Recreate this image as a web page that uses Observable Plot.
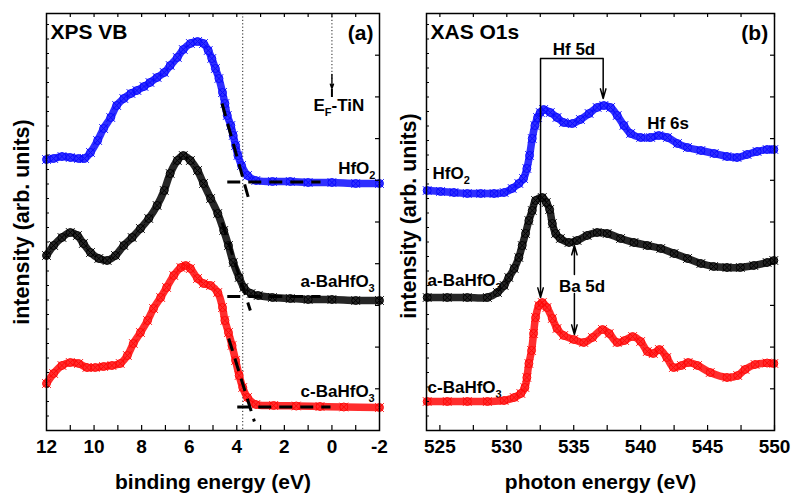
<!DOCTYPE html>
<html><head><meta charset="utf-8">
<script src="https://cdn.jsdelivr.net/npm/d3@7"></script>
<script src="https://cdn.jsdelivr.net/npm/@observablehq/plot@0.6"></script>
<style>
body{margin:0;background:#fff;}
#chart{position:relative;width:791px;height:497px;background:#fff;overflow:hidden;}
#chart svg{position:absolute;top:0;}
</style></head><body><div id="chart"></div>
<script>
// ---------- data: [energy (eV), intensity (arb. units)] ----------
const xpsHfO2 = [[12.0,27.1],[11.7,27.2],[11.35,27.4],[11.0,27.3],[10.65,27.2],[10.4,27.2],[10.15,27.8],[9.85,29.0],[9.6,30.2],[9.3,31.3],[9.05,32.5],[8.75,33.2],[8.45,33.7],[8.2,34.0],[7.9,34.4],[7.65,34.8],[7.35,35.3],[7.05,35.8],[6.8,36.5],[6.5,37.3],[6.25,38.1],[5.95,38.7],[5.65,38.9],[5.4,38.7],[5.2,38.0],[5.05,37.2],[4.9,36.2],[4.75,35.2],[4.6,33.8],[4.5,32.7],[4.4,31.5],[4.25,30.5],[4.15,29.5],[4.05,28.5],[3.95,27.5],[3.8,26.5],[3.55,25.5],[3.2,25.0],[2.5,24.9],[1.75,24.9],[1.0,24.8],[0.0,24.8],[-1.0,24.7],[-2.0,24.7]];
const xpsAmorphous = [[12.0,17.5],[11.7,18.5],[11.35,19.3],[11.0,19.8],[10.7,19.5],[10.45,18.7],[10.15,17.8],[9.8,17.2],[9.45,17.0],[9.1,17.5],[8.75,18.5],[8.4,19.3],[8.05,20.2],[7.7,21.2],[7.35,22.5],[7.05,24.0],[6.8,25.7],[6.5,27.0],[6.25,27.5],[5.95,27.0],[5.65,26.0],[5.4,24.7],[5.1,23.2],[4.8,21.7],[4.55,20.0],[4.35,18.5],[4.15,16.8],[3.9,15.3],[3.7,14.3],[3.4,13.7],[3.1,13.5],[2.5,13.3],[1.75,13.2],[1.0,13.1],[0.0,13.1],[-1.0,13.0],[-2.0,13.0]];
const xpsCrystal = [[12.0,4.7],[11.7,5.7],[11.35,6.5],[11.0,6.8],[10.65,6.7],[10.3,6.3],[9.95,6.3],[9.6,6.4],[9.25,6.5],[8.9,6.7],[8.6,7.5],[8.35,8.7],[8.05,9.8],[7.75,11.0],[7.5,12.2],[7.2,13.3],[6.95,14.3],[6.65,15.5],[6.35,16.3],[6.15,16.5],[5.95,16.2],[5.65,15.2],[5.4,14.7],[5.1,14.5],[4.8,13.8],[4.6,12.3],[4.5,11.0],[4.35,9.8],[4.2,8.5],[4.05,7.0],[3.9,5.5],[3.75,4.3],[3.55,3.3],[3.2,2.6],[2.45,2.5],[1.5,2.45],[0.5,2.4],[-0.5,2.35],[-2.0,2.3]];

const xasHfO2 = [[524.05,24.0],[525.05,23.9],[526.05,23.8],[527.05,23.7],[528.05,23.7],[529.05,23.7],[529.8,23.8],[530.4,24.2],[530.9,24.7],[531.25,25.2],[531.5,26.2],[531.7,27.5],[531.9,29.2],[532.1,30.5],[532.3,31.3],[532.5,31.8],[532.75,32.1],[533.25,31.8],[533.75,31.3],[534.25,30.8],[534.9,30.7],[535.5,31.1],[536.15,31.7],[536.75,32.3],[537.25,32.5],[537.75,32.3],[538.25,31.5],[538.75,30.5],[539.25,29.7],[540.0,29.3],[540.75,29.3],[541.35,29.5],[542.0,29.3],[542.75,28.7],[543.5,28.3],[544.5,28.0],[545.5,27.7],[546.45,27.4],[547.2,27.3],[547.95,27.6],[548.7,27.9],[549.45,28.1],[549.95,28.1]];
const xasAmorphous = [[524.05,13.3],[525.55,13.3],[527.05,13.3],[528.55,13.3],[529.3,13.8],[529.8,14.5],[530.15,15.3],[530.55,16.2],[530.9,17.3],[531.15,18.5],[531.4,19.7],[531.65,21.0],[531.9,22.0],[532.15,23.0],[532.65,23.3],[532.95,22.8],[533.2,22.1],[533.4,20.7],[533.65,19.7],[534.0,19.2],[534.65,18.8],[535.25,19.0],[536.0,19.5],[536.75,19.8],[537.5,19.7],[538.5,19.2],[539.5,18.8],[540.5,18.5],[541.5,18.2],[542.5,17.7],[543.5,17.2],[544.5,16.7],[545.45,16.4],[546.45,16.3],[547.45,16.3],[548.45,16.5],[549.45,16.8],[549.95,17.0]];
const xasCrystal = [[524.05,2.9],[525.55,2.9],[527.05,2.9],[528.55,2.9],[529.8,3.0],[530.55,3.3],[531.05,3.7],[531.35,4.3],[531.5,5.3],[531.65,6.7],[531.85,8.0],[532.0,9.7],[532.15,11.3],[532.4,12.5],[532.65,12.8],[533.0,12.3],[533.4,11.2],[533.75,10.2],[534.25,9.5],[535.0,9.1],[535.75,8.8],[536.4,9.3],[537.15,10.1],[537.65,9.7],[538.25,8.8],[538.8,9.0],[539.4,9.4],[540.0,8.9],[540.5,7.9],[540.95,7.7],[541.4,8.1],[541.95,7.3],[542.45,6.3],[543.05,6.5],[543.55,6.8],[544.25,6.5],[545.2,5.8],[546.45,5.3],[547.25,5.5],[547.8,6.1],[548.55,6.6],[549.45,6.75],[549.95,6.7]];

// linear extrapolations of the valence band edges: [E1, I1, E2, I2]
const xpsEdgeFits = [[4.62,32.7,3.48,23.0],[4.40,24.85,0.48,24.85],[4.62,20.8,3.43,12.0],[4.40,13.4,0.48,13.4],[4.34,9.2,3.26,0.9],[3.98,2.35,0.06,2.35]];
const vbmEnergy = 3.75;      // dotted line
const fermiTiN = 0;          // E_F of TiN
// annotations (right panel)
const hf5dArrows = [[532.52,37.2,13.3],[537.2,37.2,33.2]];   // [E, from, to]
const hf5dBar = [[532.52,537.2,37.2]];
const ba5dArrows = [[535.05,15.6,18.5],[535.05,13.7,9.6]];

// tick labels
const xTickLabelsLeft = [12,10,8,6,4,2,0,-2];
const xTickLabelsRight = [525,530,535,540,545,550];

// text labels ("_x" = subscript x)
const xpsLabels = [{x:-1.83,y:25.7,t:"HfO_2"},{x:-1.8,y:14.4,t:"a-BaHfO_3"},{x:-1.8,y:3.4,t:"c-BaHfO_3"}];
const fermiLabel = [{x:0.777,y:32.0,t:"E_F-TiN"}];
const xasLabels = [{x:524.45,y:25.2,t:"HfO_2"},{x:524.08,y:14.5,t:"a-BaHfO_3"},{x:524.08,y:3.8,t:"c-BaHfO_3"}];
const peakLabelsCentered = [{x:535.02,y:37.6,t:"Hf 5d"},{x:535.62,y:13.9,t:"Ba 5d"}];
const peakLabelsStart = [{x:540.5,y:30.2,t:"Hf 6s"}];

const BLUE = "#0a0aff", BLACK = "#000", RED = "#ff0808";
const FONT = '"Liberation Sans", Arial, Helvetica, sans-serif';
const YMAX = 41.7;
const X = d => d[0], Y = d => d[1];

function seriesMarks(data, color) {
  return [
    Plot.line(data, {x: X, y: Y, stroke: color, strokeWidth: 7.5, strokeOpacity: 0.85, curve: "catmull-rom"}),
    Plot.dot(data, {x: X, y: Y, r: 4, stroke: color, strokeWidth: 1, fill: "none"}),
    Plot.dot(data, {x: X, y: Y, r: 4, symbol: "times", stroke: color, strokeWidth: 1})
  ];
}
function frameTicks(x0, x1, xLeftIn, xRightIn, xTicks) {
  return [
    Plot.ruleX(xTicks, {y1: 0, y2: 0.5, stroke: "#000", strokeWidth: 1.2}),
    Plot.ruleX(xTicks, {y1: YMAX, y2: YMAX - 0.4, stroke: "#000", strokeWidth: 1.2}),
    Plot.ruleY(d3.range(1.45, YMAX, 1.45), {x1: x0, x2: xLeftIn, stroke: "#000", strokeWidth: 1}),
    Plot.ruleY(d3.range(4.17, YMAX - 0.1, 4.17), {x1: x1, x2: xRightIn, stroke: "#000", strokeWidth: 1.2}),
    Plot.frame({stroke: "#000", strokeWidth: 1.5})
  ];
}
const txt = (size, extra) => Object.assign({fontSize: size, fontWeight: "bold", fill: "#000", lineAnchor: "bottom"}, extra);
const lbl = (data, anchor) => Plot.text(data, txt(17, {x: "x", y: "y", text: "t", textAnchor: anchor}));

const left = Plot.plot({
  width: 395, height: 497, marginLeft: 46, marginRight: 16, marginTop: 13, marginBottom: 67,
  style: {fontFamily: FONT, fontSize: "19px", fontWeight: "bold", color: "#000", background: "transparent", overflow: "visible"},
  x: {domain: [12, -2], ticks: xTickLabelsLeft, tickSize: 0, tickPadding: 9, tickFormat: d => String(d), label: null},
  y: {domain: [0, YMAX], axis: null},
  marks: [
    Plot.ruleX([vbmEnergy], {stroke: "#222", strokeWidth: 1, strokeDasharray: "1.2,2.2"}),
    ...seriesMarks(xpsHfO2, BLUE),
    ...seriesMarks(xpsAmorphous, BLACK),
    ...seriesMarks(xpsCrystal, RED),
    Plot.link(xpsEdgeFits, {x1: d => d[0], y1: d => d[1], x2: d => d[2], y2: d => d[3], stroke: "#000", strokeWidth: 3, strokeDasharray: "13,8"}),
    Plot.ruleX([fermiTiN], {y1: YMAX, y2: 35.0, stroke: "#222", strokeWidth: 1, strokeDasharray: "1.2,2.2"}),
    Plot.arrow([fermiTiN], {x1: d => d, x2: d => d, y1: 35.6, y2: 34.2, stroke: "#000", strokeWidth: 1.4, headLength: 6, headAngle: 40}),
    Plot.ruleX([fermiTiN], {y1: 34.1, y2: 33.3, stroke: "#000", strokeWidth: 2}),
    lbl(xpsLabels, "end"),
    lbl(fermiLabel, "start"),
    Plot.text(["XPS VB"], txt(21, {frameAnchor: "top-left", dx: 4, dy: 25, textAnchor: "start"})),
    Plot.text(["(a)"], txt(21, {frameAnchor: "top-right", dx: -6, dy: 26, textAnchor: "end"})),
    Plot.text(["binding energy (eV)"], txt(21, {frameAnchor: "bottom", dy: 58, textAnchor: "middle"})),
    Plot.text(["intensity (arb. units)"], txt(21.5, {frameAnchor: "left", rotate: -90, dx: -17.4, textAnchor: "middle"})),
    ...frameTicks(12, -2, 12 - 3 / 23.79, -2 + 4 / 23.79, d3.range(11, -1.5, -1))
  ]
});

const right = Plot.plot({
  width: 396, height: 497, marginLeft: 31, marginRight: 17, marginTop: 13, marginBottom: 67,
  style: {fontFamily: FONT, fontSize: "19px", fontWeight: "bold", color: "#000", background: "transparent", overflow: "visible"},
  x: {domain: [524, 550], ticks: xTickLabelsRight, tickSize: 0, tickPadding: 9, tickFormat: d => String(d), label: null},
  y: {domain: [0, YMAX], axis: null},
  marks: [
    lbl(xasLabels, "start"),
    ...seriesMarks(xasHfO2, BLUE),
    ...seriesMarks(xasAmorphous, BLACK),
    ...seriesMarks(xasCrystal, RED),
    Plot.link(hf5dBar, {x1: d => d[0], x2: d => d[1], y1: d => d[2], y2: d => d[2], stroke: "#000", strokeWidth: 1.5}),
    Plot.arrow(hf5dArrows, {x1: d => d[0], x2: d => d[0], y1: d => d[1], y2: d => d[2], stroke: "#000", strokeWidth: 1.5, headLength: 10, headAngle: 32}),
    Plot.arrow(ba5dArrows, {x1: d => d[0], x2: d => d[0], y1: d => d[1], y2: d => d[2], stroke: "#000", strokeWidth: 1.5, headLength: 10, headAngle: 32}),
    lbl(peakLabelsCentered, "middle"),
    lbl(peakLabelsStart, "start"),
    Plot.text(["XAS O1s"], txt(21, {frameAnchor: "top-left", dx: 4, dy: 25, textAnchor: "start"})),
    Plot.text(["(b)"], txt(21, {frameAnchor: "top-right", dx: -6.3, dy: 26, textAnchor: "end"})),
    Plot.text(["photon energy (eV)"], txt(21, {frameAnchor: "bottom", dy: 58, textAnchor: "middle"})),
    Plot.text(["intensity (arb. units)"], txt(21.5, {frameAnchor: "left", rotate: -90, dx: -10.4, dy: -6, textAnchor: "middle"})),
    ...frameTicks(524, 550, 524 + 3 / 13.39, 550 - 4 / 13.39, d3.range(525, 550.1, 2.5))
  ]
});

// turn "_x" into a real subscript tspan
function subscripts(svg) {
  const NS = "http://www.w3.org/2000/svg";
  svg.querySelectorAll("text").forEach(t => {
    const s = t.textContent;
    if (!/_\w/.test(s)) return;
    const parts = s.split(/_(\w)/);
    t.textContent = "";
    parts.forEach((p, i) => {
      if (!p) return;
      const ts = document.createElementNS(NS, "tspan");
      ts.textContent = p;
      if (i % 2) { ts.setAttribute("font-size", "11px"); ts.setAttribute("dy", "5"); }
      else if (i > 0) ts.setAttribute("dy", "-5");
      t.appendChild(ts);
    });
  });
}
subscripts(left); subscripts(right);

left.style.left = "0px";
right.style.left = "395px";
document.getElementById("chart").append(left, right);
</script>
</body></html>
